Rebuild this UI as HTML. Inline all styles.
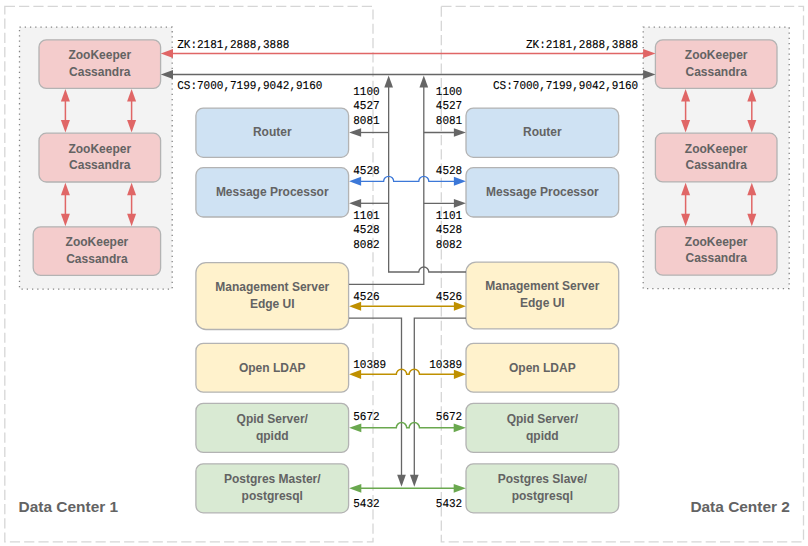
<!DOCTYPE html>
<html><head><meta charset="utf-8"><title>Data Centers</title>
<style>
html,body{margin:0;padding:0;background:#fff;}
body{width:808px;height:546px;overflow:hidden;}
svg{display:block;}
.lbl{font-family:"Liberation Sans",sans-serif;font-weight:bold;font-size:12px;fill:#636363;text-anchor:middle;}
.dc{font-family:"Liberation Sans",sans-serif;font-weight:bold;font-size:15.45px;fill:#636363;}
.m{font-family:"Liberation Mono",monospace;font-size:11px;fill:#000;stroke:#000;stroke-width:0.12px;text-rendering:geometricPrecision;}
</style></head><body>
<svg width="808" height="546" viewBox="0 0 808 546">
<rect width="808" height="546" fill="#ffffff"/>
<rect x="4.8" y="6.3" width="368.2" height="535.5" stroke="#d6d6d6" stroke-width="1.3" fill="none" stroke-dasharray="10.2 4.08"/>
<rect x="441.3" y="6.3" width="362.2" height="535.5" stroke="#d6d6d6" stroke-width="1.3" fill="none" stroke-dasharray="10.2 4.08"/>
<rect x="19.5" y="27.1" width="152.7" height="262" stroke="#858585" stroke-width="1.3" fill="#f3f3f3" stroke-dasharray="1.3 3.923"/>
<rect x="643.2" y="27.1" width="146" height="261.5" stroke="#858585" stroke-width="1.3" fill="#f3f3f3" stroke-dasharray="1.3 3.923"/>
<rect x="39" y="39.8" width="121.6" height="48.6" rx="7.3" ry="7.3" fill="#f4cccc" stroke="#b3b3b3" stroke-width="1.3"/>
<text class="lbl" x="99.8" y="58.7">ZooKeeper</text>
<text class="lbl" x="99.8" y="75.6">Cassandra</text>
<rect x="39" y="133.2" width="121.6" height="48.8" rx="7.3" ry="7.3" fill="#f4cccc" stroke="#b3b3b3" stroke-width="1.3"/>
<text class="lbl" x="99.8" y="153.1">ZooKeeper</text>
<text class="lbl" x="99.8" y="169.1">Cassandra</text>
<rect x="33.2" y="226.8" width="127.4" height="48.6" rx="7.3" ry="7.3" fill="#f4cccc" stroke="#b3b3b3" stroke-width="1.3"/>
<text class="lbl" x="96.9" y="245.7">ZooKeeper</text>
<text class="lbl" x="96.9" y="262.6">Cassandra</text>
<rect x="655.4" y="39.8" width="121.6" height="48.6" rx="7.3" ry="7.3" fill="#f4cccc" stroke="#b3b3b3" stroke-width="1.3"/>
<text class="lbl" x="716.2" y="58.7">ZooKeeper</text>
<text class="lbl" x="716.2" y="75.6">Cassandra</text>
<rect x="655.4" y="133.2" width="121.6" height="48.7" rx="7.3" ry="7.3" fill="#f4cccc" stroke="#b3b3b3" stroke-width="1.3"/>
<text class="lbl" x="716.2" y="153.05">ZooKeeper</text>
<text class="lbl" x="716.2" y="169.05">Cassandra</text>
<rect x="655.4" y="226.6" width="121.6" height="48.6" rx="7.3" ry="7.3" fill="#f4cccc" stroke="#b3b3b3" stroke-width="1.3"/>
<text class="lbl" x="716.2" y="245.5">ZooKeeper</text>
<text class="lbl" x="716.2" y="262.4">Cassandra</text>
<rect x="195.9" y="108.1" width="152.7" height="49.2" rx="7.3" ry="7.3" fill="#cfe2f3" stroke="#b3b3b3" stroke-width="1.3"/>
<text class="lbl" x="272.25" y="135.8">Router</text>
<rect x="195.9" y="167.7" width="152.7" height="49.3" rx="7.3" ry="7.3" fill="#cfe2f3" stroke="#b3b3b3" stroke-width="1.3"/>
<text class="lbl" x="272.25" y="196.35">Message Processor</text>
<rect x="195.9" y="262.7" width="152.7" height="66.8" rx="10" ry="10" fill="#fff2cc" stroke="#b3b3b3" stroke-width="1.3"/>
<text class="lbl" x="272.25" y="291.4">Management Server</text>
<text class="lbl" x="272.25" y="308.3">Edge UI</text>
<rect x="195.9" y="343.4" width="152.7" height="48.8" rx="7.3" ry="7.3" fill="#fff2cc" stroke="#b3b3b3" stroke-width="1.3"/>
<text class="lbl" x="272.25" y="372.0">Open LDAP</text>
<rect x="195.9" y="403.4" width="152.7" height="49" rx="7.3" ry="7.3" fill="#d9ead3" stroke="#b3b3b3" stroke-width="1.3"/>
<text class="lbl" x="272.25" y="422.5">Qpid Server/</text>
<text class="lbl" x="272.25" y="440.4">qpidd</text>
<rect x="195.9" y="463.8" width="152.7" height="49" rx="7.3" ry="7.3" fill="#d9ead3" stroke="#b3b3b3" stroke-width="1.3"/>
<text class="lbl" x="272.25" y="483.3">Postgres Master/</text>
<text class="lbl" x="272.25" y="500.0">postgresql</text>
<rect x="466" y="108.1" width="152.7" height="49.2" rx="7.3" ry="7.3" fill="#cfe2f3" stroke="#b3b3b3" stroke-width="1.3"/>
<text class="lbl" x="542.35" y="135.8">Router</text>
<rect x="466" y="167.7" width="152.7" height="49.3" rx="7.3" ry="7.3" fill="#cfe2f3" stroke="#b3b3b3" stroke-width="1.3"/>
<text class="lbl" x="542.35" y="196.35">Message Processor</text>
<rect x="466" y="262.1" width="152.7" height="66.8" rx="10" ry="10" fill="#fff2cc" stroke="#b3b3b3" stroke-width="1.3"/>
<text class="lbl" x="542.35" y="290.1">Management Server</text>
<text class="lbl" x="542.35" y="307.0">Edge UI</text>
<rect x="466" y="343.4" width="152.7" height="48.8" rx="7.3" ry="7.3" fill="#fff2cc" stroke="#b3b3b3" stroke-width="1.3"/>
<text class="lbl" x="542.35" y="372.0">Open LDAP</text>
<rect x="466" y="403.4" width="152.7" height="49" rx="7.3" ry="7.3" fill="#d9ead3" stroke="#b3b3b3" stroke-width="1.3"/>
<text class="lbl" x="542.35" y="422.5">Qpid Server/</text>
<text class="lbl" x="542.35" y="440.4">qpidd</text>
<rect x="466" y="463.8" width="152.7" height="49" rx="7.3" ry="7.3" fill="#d9ead3" stroke="#b3b3b3" stroke-width="1.3"/>
<text class="lbl" x="542.35" y="483.3">Postgres Slave/</text>
<text class="lbl" x="542.35" y="500.0">postgresql</text>
<path d="M65.4,97.1 V124.6" fill="none" stroke="#e06666" stroke-width="1.5"/>
<polygon points="65.4,89.1 60.900000000000006,101.6 69.9,101.6" fill="#e06666" />
<polygon points="65.4,132.6 60.900000000000006,120.1 69.9,120.1" fill="#e06666" />
<path d="M65.4,190.7 V218.2" fill="none" stroke="#e06666" stroke-width="1.5"/>
<polygon points="65.4,182.7 60.900000000000006,195.2 69.9,195.2" fill="#e06666" />
<polygon points="65.4,226.2 60.900000000000006,213.7 69.9,213.7" fill="#e06666" />
<path d="M131.6,97.1 V124.6" fill="none" stroke="#e06666" stroke-width="1.5"/>
<polygon points="131.6,89.1 127.1,101.6 136.1,101.6" fill="#e06666" />
<polygon points="131.6,132.6 127.1,120.1 136.1,120.1" fill="#e06666" />
<path d="M131.6,190.7 V218.2" fill="none" stroke="#e06666" stroke-width="1.5"/>
<polygon points="131.6,182.7 127.1,195.2 136.1,195.2" fill="#e06666" />
<polygon points="131.6,226.2 127.1,213.7 136.1,213.7" fill="#e06666" />
<path d="M685.6,97.1 V124.6" fill="none" stroke="#e06666" stroke-width="1.5"/>
<polygon points="685.6,89.1 681.1,101.6 690.1,101.6" fill="#e06666" />
<polygon points="685.6,132.6 681.1,120.1 690.1,120.1" fill="#e06666" />
<path d="M685.6,190.7 V218.2" fill="none" stroke="#e06666" stroke-width="1.5"/>
<polygon points="685.6,182.7 681.1,195.2 690.1,195.2" fill="#e06666" />
<polygon points="685.6,226.2 681.1,213.7 690.1,213.7" fill="#e06666" />
<path d="M751.8,97.1 V124.6" fill="none" stroke="#e06666" stroke-width="1.5"/>
<polygon points="751.8,89.1 747.3,101.6 756.3,101.6" fill="#e06666" />
<polygon points="751.8,132.6 747.3,120.1 756.3,120.1" fill="#e06666" />
<path d="M751.8,190.7 V218.2" fill="none" stroke="#e06666" stroke-width="1.5"/>
<polygon points="751.8,182.7 747.3,195.2 756.3,195.2" fill="#e06666" />
<polygon points="751.8,226.2 747.3,213.7 756.3,213.7" fill="#e06666" />
<path d="M170,53.6 H646" fill="none" stroke="#e06666" stroke-width="1.5"/>
<polygon points="160.8,53.6 173.0,49.1 173.0,58.1" fill="#e06666" />
<polygon points="655.5,53.6 643.1,49.1 643.1,58.1" fill="#e06666" />
<path d="M170,74.5 H646" fill="none" stroke="#666666" stroke-width="1.3"/>
<polygon points="160.8,74.55 173.0,70.0 173.0,79.1" fill="#666666" />
<polygon points="655.5,74.55 643.1,70.0 643.1,79.1" fill="#666666" />
<path d="M388.65,85 V272 H418.8 A5,5 0 0 1 428.8,272 H466" fill="none" stroke="#666666" stroke-width="1.3"/>
<polygon points="388.65,75.6 384.29999999999995,87.6 393.0,87.6" fill="#666666" />
<path d="M388.65,132.5 H359" fill="none" stroke="#666666" stroke-width="1.3"/>
<polygon points="349.1,132.5 361.1,128.15 361.1,136.85" fill="#666666" />
<path d="M388.65,203.3 H359" fill="none" stroke="#666666" stroke-width="1.3"/>
<polygon points="349.1,203.3 361.1,198.95000000000002 361.1,207.65" fill="#666666" />
<path d="M423.8,85 V284.4 H349" fill="none" stroke="#666666" stroke-width="1.3"/>
<polygon points="423.8,75.6 419.45,87.6 428.15000000000003,87.6" fill="#666666" />
<path d="M423.8,132.5 H456" fill="none" stroke="#666666" stroke-width="1.3"/>
<polygon points="465.9,132.5 453.9,128.15 453.9,136.85" fill="#666666" />
<path d="M423.8,203.3 H456" fill="none" stroke="#666666" stroke-width="1.3"/>
<polygon points="465.9,203.3 453.9,198.95000000000002 453.9,207.65" fill="#666666" />
<path d="M358,181.3 H383.65 A5,5 0 0 1 393.65,181.3 H418.8 A5,5 0 0 1 428.8,181.3 H457" fill="none" stroke="#3c78d8" stroke-width="1.3"/>
<polygon points="349.1,181.3 361.1,176.8 361.1,185.8" fill="#3c78d8" />
<polygon points="465.9,181.3 453.9,176.8 453.9,185.8" fill="#3c78d8" />
<path d="M358,306.3 H457" fill="none" stroke="#bf9000" stroke-width="1.5"/>
<polygon points="349.1,306.3 361.1,301.75 361.1,310.85" fill="#bf9000" />
<polygon points="465.9,306.3 453.9,301.75 453.9,310.85" fill="#bf9000" />
<path d="M349,318.1 H401.5 V476" fill="none" stroke="#666666" stroke-width="1.3"/>
<polygon points="401.5,486.8 397.15,474.8 405.85,474.8" fill="#666666" />
<path d="M466,318.1 H414.3 V476" fill="none" stroke="#666666" stroke-width="1.3"/>
<polygon points="414.3,486.8 409.95,474.8 418.65000000000003,474.8" fill="#666666" />
<path d="M358,374.35 H396.3 A5.2,5.2 0 0 1 406.7,374.35 H409.1 A5.2,5.2 0 0 1 419.5,374.35 H457" fill="none" stroke="#bf9000" stroke-width="1.5"/>
<polygon points="349.1,374.35 361.1,369.8 361.1,378.90000000000003" fill="#bf9000" />
<polygon points="465.9,374.35 453.9,369.8 453.9,378.90000000000003" fill="#bf9000" />
<path d="M358,427.8 H396.3 A5.2,5.2 0 0 1 406.7,427.8 H409.1 A5.2,5.2 0 0 1 419.5,427.8 H457" fill="none" stroke="#6aa84f" stroke-width="1.5"/>
<polygon points="349.1,427.8 361.3,423.40000000000003 361.3,432.2" fill="#6aa84f" />
<polygon points="465.9,427.8 453.7,423.40000000000003 453.7,432.2" fill="#6aa84f" />
<path d="M358,488.3 H457" fill="none" stroke="#6aa84f" stroke-width="1.5"/>
<polygon points="349.1,488.3 361.3,483.90000000000003 361.3,492.7" fill="#6aa84f" />
<polygon points="465.9,488.3 453.7,483.90000000000003 453.7,492.7" fill="#6aa84f" />
<text class="m" transform="translate(177.2,48) scale(1,1.09)">ZK:2181,2888,3888</text>
<text class="m" transform="translate(177.2,89.2) scale(1,1.09)">CS:7000,7199,9042,9160</text>
<text class="m" transform="translate(526.0,48) scale(1,1.09)">ZK:2181,2888,3888</text>
<text class="m" transform="translate(493.0,89.2) scale(1,1.09)">CS:7000,7199,9042,9160</text>
<text class="m" transform="translate(353.2,95) scale(1,1.09)">1100</text>
<text class="m" transform="translate(353.2,109.3) scale(1,1.09)">4527</text>
<text class="m" transform="translate(353.2,124) scale(1,1.09)">8081</text>
<text class="m" transform="translate(353.2,174.2) scale(1,1.09)">4528</text>
<text class="m" transform="translate(353.2,219) scale(1,1.09)">1101</text>
<text class="m" transform="translate(353.2,233.2) scale(1,1.09)">4528</text>
<text class="m" transform="translate(353.2,248) scale(1,1.09)">8082</text>
<text class="m" transform="translate(353.2,300.1) scale(1,1.09)">4526</text>
<text class="m" transform="translate(353.2,367.9) scale(1,1.09)">10389</text>
<text class="m" transform="translate(353.2,420) scale(1,1.09)">5672</text>
<text class="m" transform="translate(353.2,507.1) scale(1,1.09)">5432</text>
<text class="m" transform="translate(435.8,95) scale(1,1.09)">1100</text>
<text class="m" transform="translate(435.8,109.3) scale(1,1.09)">4527</text>
<text class="m" transform="translate(435.8,124) scale(1,1.09)">8081</text>
<text class="m" transform="translate(435.8,174.2) scale(1,1.09)">4528</text>
<text class="m" transform="translate(435.8,219) scale(1,1.09)">1101</text>
<text class="m" transform="translate(435.8,233.2) scale(1,1.09)">4528</text>
<text class="m" transform="translate(435.8,248) scale(1,1.09)">8082</text>
<text class="m" transform="translate(435.8,300.1) scale(1,1.09)">4526</text>
<text class="m" transform="translate(429.2,367.9) scale(1,1.09)">10389</text>
<text class="m" transform="translate(435.8,420) scale(1,1.09)">5672</text>
<text class="m" transform="translate(435.8,507.1) scale(1,1.09)">5432</text>
<text class="dc" x="18.6" y="512.3">Data Center 1</text>
<text class="dc" x="690.4" y="512.3">Data Center 2</text>
</svg>
</body></html>
